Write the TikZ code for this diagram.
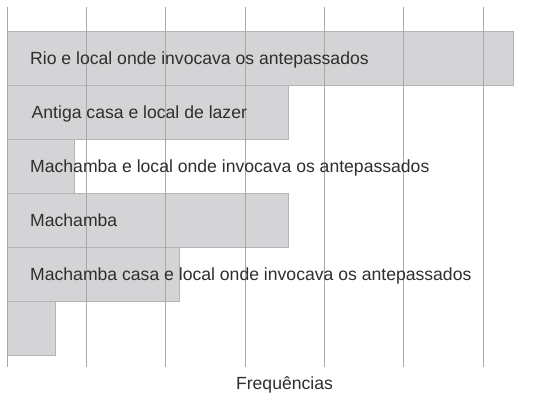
\documentclass[tikz,border=0pt]{standalone}
\usepackage{fontspec}
\setmainfont{Liberation Sans}
\definecolor{barfill}{HTML}{D4D4D6}
\definecolor{barline}{HTML}{B4B4B6}
\definecolor{gridcol}{HTML}{A8A8A8}
\definecolor{txtcol}{HTML}{2E2E2E}
\begin{document}
\begin{tikzpicture}[x=1pt, y=-1pt,
  bar/.style={fill=barfill, draw=barline, line width=0.9pt},
  gridln/.style={draw=gridcol, line width=0.9pt},
  lbl/.style={anchor=base west, inner sep=0pt, text=txtcol, font=\fontsize{17.6}{20}\selectfont}]
\useasboundingbox (0,0) rectangle (556,393);
\draw[bar] (7.3,31.7) rectangle (513,85.7);
\draw[bar] (7.3,85.7) rectangle (288.7,139.5);
\draw[bar] (7.3,139.5) rectangle (74.7,193.5);
\draw[bar] (7.3,193.5) rectangle (288.7,247.7);
\draw[bar] (7.3,247.7) rectangle (179,301.7);
\draw[bar] (7.3,301.7) rectangle (55,355.7);
\foreach \gx [count=\gi] in {7.3,86.6,165.9,245.2,324.5,403.8,483.1}{
  \coordinate (gtop\gi) at (\gx,7);
  \coordinate (gbot\gi) at (\gx,367);
  \draw[gridln] (gtop\gi) -- (gbot\gi);
}
\node[lbl] (lab1) at (30,64.3) {Rio e local onde invocava os antepassados};
\node[lbl] (lab2) at (31.5,118.3) {Antiga casa e local de lazer};
\node[lbl] (lab3) at (30,172.3) {Machamba e local onde invocava os antepassados};
\node[lbl] (lab4) at (30,226.3) {Machamba};
\node[lbl] (lab5) at (30,280.3) {Machamba casa e local onde invocava os antepassados};
\node[anchor=base, inner sep=0pt, text=txtcol, font=\fontsize{17.6}{20}\selectfont] (axlab) at (284.5,389) {Frequências};
\end{tikzpicture}
\end{document}
